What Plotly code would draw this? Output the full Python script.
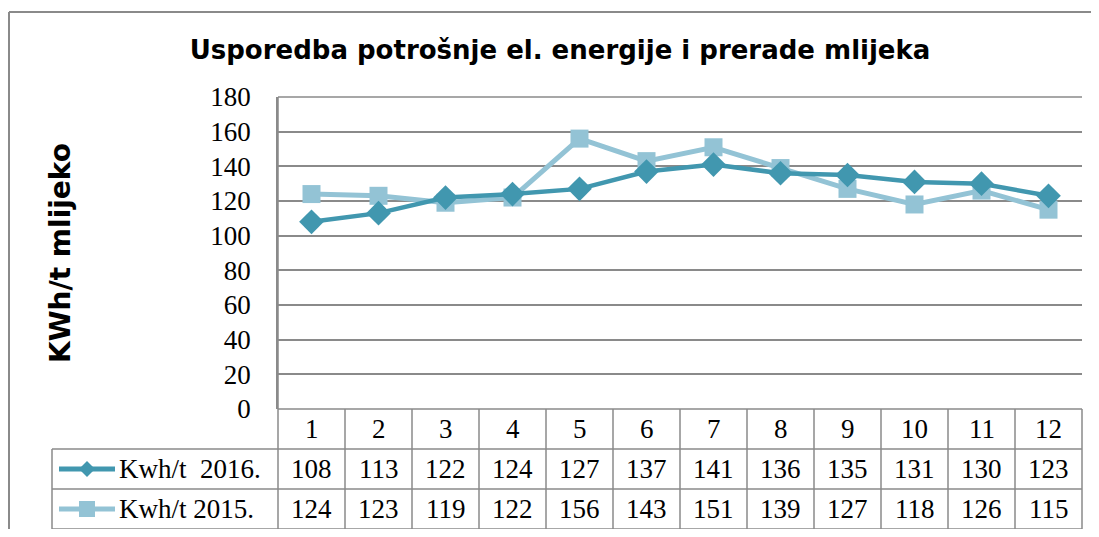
import plotly.graph_objects as go

months = [str(i) for i in range(1, 13)]
s2016_name = "Kwh/t  2016."
s2015_name = "Kwh/t 2015."
s2016 = [108, 113, 122, 124, 127, 137, 141, 136, 135, 131, 130, 123]
s2015 = [124, 123, 119, 122, 156, 143, 151, 139, 127, 118, 126, 115]
y_ticks = [0, 20, 40, 60, 80, 100, 120, 140, 160, 180]

c2016 = "#4197AF"
c2015 = "#93C3D5"
grid = "#8A8A8A"
serif = "'Liberation Serif', 'DejaVu Serif', serif"
sans = "Verdana, 'DejaVu Sans', sans-serif"
tsize = 27

OFF = 8  # page body margin
W, H = 1099 - 2 * OFF, 537 - 2 * OFF
L, T = 278 - OFF, 97 - OFF
R = W - (1082 - OFF)
B = H - (409 - OFF)
pw = W - L - R
ph = H - T - B


def px(xs):  # screen x -> paper
    return (xs - OFF - L) / pw


def py(ys):  # screen y -> paper
    return 1 - (ys - OFF - T) / ph


fig = go.Figure()
fig.add_trace(go.Scatter(x=months, y=s2015, name=s2015_name, mode="lines+markers",
                         line=dict(color=c2015, width=5),
                         marker=dict(symbol="square", size=18, color=c2015)))
fig.add_trace(go.Scatter(x=months, y=s2016, name=s2016_name, mode="lines+markers",
                         line=dict(color=c2016, width=4.5),
                         marker=dict(symbol="diamond", size=19, color=c2016)))

shapes = []
annotations = []
n = len(months)
row_h = 40 / ph
legend_left = px(52)

for k in range(4):
    y = -k * row_h
    x0 = 0 if k == 0 else legend_left
    shapes.append(dict(type="line", xref="paper", yref="paper", x0=x0, x1=1, y0=y, y1=y,
                       line=dict(color=grid, width=1.5)))
for j in range(n + 1):
    shapes.append(dict(type="line", xref="paper", yref="paper", x0=j / n, x1=j / n,
                       y0=0 if j else 1, y1=-3 * row_h, line=dict(color=grid, width=1.5)))
shapes.append(dict(type="line", xref="paper", yref="paper", x0=legend_left, x1=legend_left,
                   y0=-row_h, y1=-3 * row_h, line=dict(color=grid, width=1.5)))

# outer chart border (top and left visible)
bx0 = px(9)
by1 = py(12)
shapes.append(dict(type="line", xref="paper", yref="paper", x0=bx0, x1=1 + (R + 10) / pw, y0=by1, y1=by1,
                   line=dict(color=grid, width=2)))
shapes.append(dict(type="line", xref="paper", yref="paper", x0=bx0, x1=bx0, y0=by1, y1=-(B + 10) / ph,
                   line=dict(color=grid, width=2)))

for j, m in enumerate(months):
    xc = (j + 0.5) / n
    for r, txt in enumerate([m, str(s2016[j]), str(s2015[j])]):
        annotations.append(dict(xref="paper", yref="paper", x=xc, y=-(r + 0.5) * row_h,
                                text=txt, showarrow=False, xanchor="center", yanchor="middle",
                                font=dict(family=serif, size=tsize, color="black")))

key_x0 = px(59)
key_x1 = px(115)
key_xm = (key_x0 + key_x1) / 2
txt_x = px(117)
for r, (name, col, sym) in enumerate([(s2016_name, c2016, "diamond"), (s2015_name, c2015, "square")]):
    yc = -(r + 1.5) * row_h
    shapes.append(dict(type="line", xref="paper", yref="paper", x0=key_x0, x1=key_x1, y0=yc, y1=yc,
                       line=dict(color=col, width=5)))
    hx = 8 / pw
    hy = 8 / ph
    if sym == "diamond":
        path = f"M {key_xm-hx},{yc} L {key_xm},{yc+hy} L {key_xm+hx},{yc} L {key_xm},{yc-hy} Z"
        shapes.append(dict(type="path", xref="paper", yref="paper", path=path,
                           fillcolor=col, line=dict(color=col, width=0)))
    else:
        shapes.append(dict(type="rect", xref="paper", yref="paper", x0=key_xm - hx, x1=key_xm + hx,
                           y0=yc - hy, y1=yc + hy, fillcolor=col, line=dict(color=col, width=0)))
    annotations.append(dict(xref="paper", yref="paper", x=txt_x, y=yc, text=name, showarrow=False,
                            xanchor="left", yanchor="middle",
                            font=dict(family=serif, size=tsize, color="black")))

# y axis title
annotations.append(dict(xref="paper", yref="paper", x=px(60), y=0.5, text="<b>KWh/t mlijeko</b>",
                        textangle=-90, showarrow=False, xanchor="center", yanchor="middle",
                        font=dict(family=sans, size=28, color="black")))

fig.update_layout(
    width=W, height=H,
    margin=dict(l=L, r=R, t=T, b=B, pad=0),
    paper_bgcolor="white", plot_bgcolor="white",
    showlegend=False,
    title=dict(text="<b>Usporedba potrošnje el. energije i prerade mlijeka</b>",
               x=(560 - OFF) / W, xanchor="center", y=1 - (50 - OFF) / H, yanchor="middle",
               font=dict(family=sans, size=26, color="black")),
    xaxis=dict(type="category", range=[-0.5, n - 0.5], showticklabels=False, showgrid=False,
               zeroline=False, showline=False, ticks=""),
    yaxis=dict(range=[0, 180], tickvals=y_ticks, showgrid=True, gridcolor=grid, gridwidth=1.5,
               zeroline=False, showline=True, linecolor=grid, linewidth=1.5, ticks="",
               ticklabelstandoff=20,
               tickfont=dict(family=serif, size=tsize, color="black")),
    shapes=shapes, annotations=annotations,
)
fig.add_shape(type="line", xref="paper", yref="paper", x0=0, x1=1, y0=1, y1=1,
              line=dict(color=grid, width=1.5))

fig.write_html("out.html")
